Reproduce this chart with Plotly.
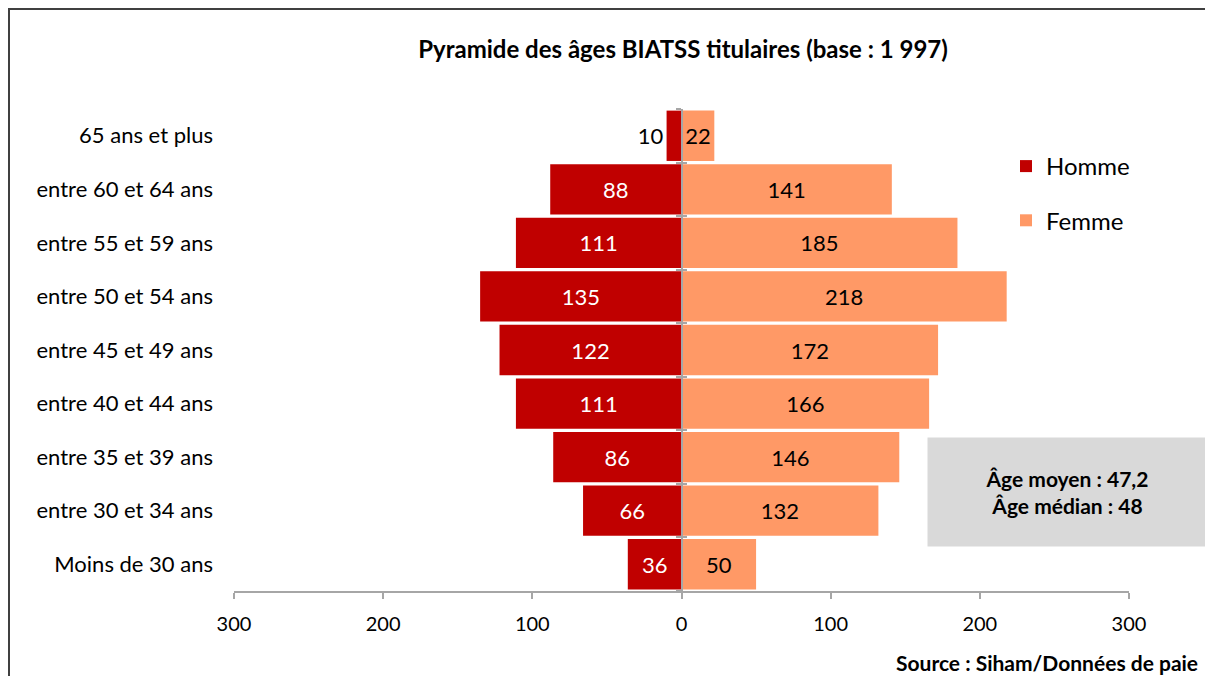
import plotly.graph_objects as go

# tranches d'âge, de bas en haut
tranches = [
    "Moins de 30 ans",
    "entre 30 et 34 ans",
    "entre 35 et 39 ans",
    "entre 40 et 44 ans",
    "entre 45 et 49 ans",
    "entre 50 et 54 ans",
    "entre 55 et 59 ans",
    "entre 60 et 64 ans",
    "65 ans et plus",
]
hommes = [36, 66, 86, 111, 122, 135, 111, 88, 10]
femmes = [50, 132, 146, 166, 172, 218, 185, 141, 22]

ticks_x = [-300, -200, -100, 0, 100, 200, 300]
labels_x = ["300", "200", "100", "0", "100", "200", "300"]

# la page ajoute une marge de 8 px autour de la figure
OFF = 8
W, H = 1213 - 2 * OFF, 684 - 2 * OFF
L, R, T, B = 226, 76, 101, 85
PW, PH = W - L - R, H - T - B


def px_x(p):
    # p : position en pixels sur la capture
    return (p - OFF - L) / PW


def px_y(p):
    return (H - B - (p - OFF)) / PH


FONT = "Lato"
GRIS = "#a6a6a6"

fig = go.Figure()

fig.add_trace(go.Bar(
    y=tranches, x=[-v for v in hommes], orientation="h", name="Homme",
    marker=dict(color="#C00000", line=dict(width=0)),
    text=[str(v) for v in hommes], textposition="auto",
    insidetextanchor="middle",
    insidetextfont=dict(color="white", size=22, family=FONT),
    outsidetextfont=dict(color="black", size=22, family=FONT),
    hoverinfo="skip", legendgroup="h",
))
fig.add_trace(go.Bar(
    y=tranches, x=femmes, orientation="h", name="Femme",
    marker=dict(color="#FF9966", line=dict(width=0)),
    text=[str(v) for v in femmes], textposition="auto",
    insidetextanchor="middle",
    insidetextfont=dict(color="black", size=22, family=FONT),
    outsidetextfont=dict(color="black", size=22, family=FONT),
    hoverinfo="skip", legendgroup="f",
))

# axe central (ligne + graduations croisées)
for ax in ("y2", "y3"):
    fig.add_trace(go.Scatter(
        y=tranches, x=[0] * len(tranches), yaxis=ax, mode="markers",
        marker=dict(opacity=0), showlegend=False, hoverinfo="skip",
    ))

axe_central = dict(
    overlaying="y", anchor="free", position=0.5, type="category",
    categoryarray=tranches, categoryorder="array", range=[-0.5, 8.5],
    showline=True, linecolor=GRIS, linewidth=1.5, tickson="boundaries",
    ticklen=5, tickcolor=GRIS, tickwidth=1.5, showticklabels=False,
    showgrid=False, zeroline=False,
)

fig.update_layout(
    width=W, height=H,
    margin=dict(l=L, r=R, t=T, b=B),
    paper_bgcolor="white", plot_bgcolor="white",
    barmode="relative", bargap=0.06,
    font=dict(family=FONT, color="black"),
    title=dict(
        text="<b>Pyramide des âges BIATSS titulaires (base : 1 997)</b>",
        x=(683 - OFF) / W, y=1 - (50 - OFF) / H,
        xanchor="center", yanchor="middle",
        font=dict(size=24, family=FONT, color="black"),
    ),
    xaxis=dict(
        range=[-300, 300], tickvals=ticks_x, ticktext=labels_x,
        showline=True, linecolor=GRIS, linewidth=1.5,
        ticks="outside", ticklen=6, tickcolor=GRIS, tickwidth=1.5,
        ticklabelstandoff=8,
        showgrid=False, zeroline=False,
        tickfont=dict(size=20, family=FONT),
    ),
    yaxis=dict(
        type="category", categoryarray=tranches, categoryorder="array",
        range=[-0.5, 8.5], showline=False, showgrid=False, zeroline=False,
        ticks="", ticklabelstandoff=20,
        tickfont=dict(size=22, family=FONT),
    ),
    yaxis2=dict(axe_central, ticks="outside"),
    yaxis3=dict(axe_central, ticks="inside"),
    legend=dict(
        x=px_x(1006), y=px_y(144), xanchor="left", yanchor="top",
        font=dict(size=24, family=FONT), tracegroupgap=20,
        traceorder="grouped", bgcolor="rgba(0,0,0,0)",
    ),
    showlegend=True,
)

fig.add_annotation(
    xref="paper", yref="paper", x=px_x(1067), y=px_y(492),
    xanchor="center", yanchor="middle",
    text="<b>Âge moyen : 47,2</b><br><b>Âge médian : 48</b>",
    width=276, height=106, bgcolor="#d9d9d9", showarrow=False,
    font=dict(size=21, family=FONT, color="black"),
)
fig.add_annotation(
    xref="paper", yref="paper", x=px_x(1200), y=px_y(662),
    xanchor="right", yanchor="middle",
    text="<b>Source : Siham/Données de paie</b>", showarrow=False,
    font=dict(size=21, family=FONT, color="black"),
)

# cadre du graphique
fig.add_shape(
    type="rect", xref="paper", yref="paper",
    x0=px_x(9), x1=px_x(1213 + 20), y0=px_y(684 + 20), y1=px_y(9),
    line=dict(color="#404040", width=2), fillcolor="rgba(0,0,0,0)",
    layer="below",
)

fig.write_html("out.html")
